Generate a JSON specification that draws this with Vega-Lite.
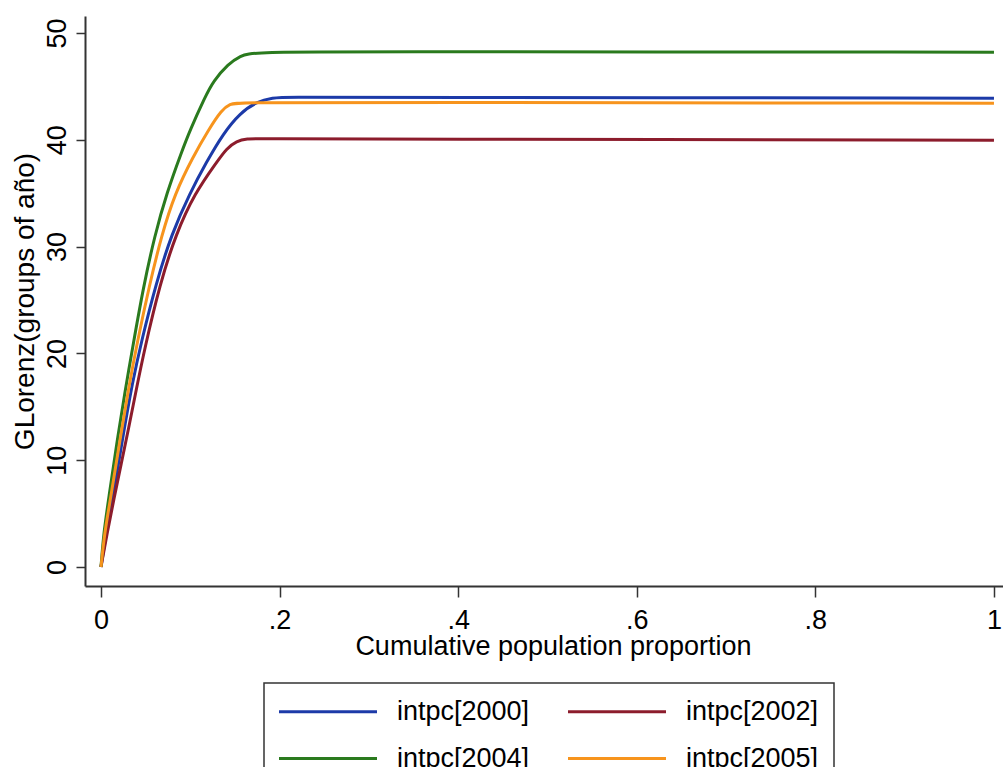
{
  "$schema": "https://vega.github.io/schema/vega-lite/v6.json",
  "width": 918,
  "height": 570,
  "autosize": {"type": "none"},
  "padding": {"left": 85, "top": 16, "right": 0, "bottom": 181},
  "background": "white",
  "config": {
    "view": {"stroke": null},
    "font": "Liberation Sans"
  },
  "data": {
    "values": [
      {"series": "intpc[2000]", "p": 0, "gl": 0},
      {"series": "intpc[2000]", "p": 0.006, "gl": 3.2},
      {"series": "intpc[2000]", "p": 0.0132, "gl": 6.4},
      {"series": "intpc[2000]", "p": 0.0245, "gl": 12.2},
      {"series": "intpc[2000]", "p": 0.035, "gl": 17.2},
      {"series": "intpc[2000]", "p": 0.0455, "gl": 21.2},
      {"series": "intpc[2000]", "p": 0.0615, "gl": 26.5},
      {"series": "intpc[2000]", "p": 0.0791, "gl": 31.2},
      {"series": "intpc[2000]", "p": 0.0995, "gl": 35.0},
      {"series": "intpc[2000]", "p": 0.118, "gl": 37.9},
      {"series": "intpc[2000]", "p": 0.137, "gl": 40.6},
      {"series": "intpc[2000]", "p": 0.1557, "gl": 42.5},
      {"series": "intpc[2000]", "p": 0.1743, "gl": 43.57},
      {"series": "intpc[2000]", "p": 0.193, "gl": 43.94},
      {"series": "intpc[2000]", "p": 0.206, "gl": 44.0},
      {"series": "intpc[2000]", "p": 0.312, "gl": 43.98},
      {"series": "intpc[2000]", "p": 1.0, "gl": 43.9},

      {"series": "intpc[2002]", "p": 0, "gl": 0},
      {"series": "intpc[2002]", "p": 0.007, "gl": 3.2},
      {"series": "intpc[2002]", "p": 0.0145, "gl": 6.4},
      {"series": "intpc[2002]", "p": 0.0225, "gl": 9.6},
      {"series": "intpc[2002]", "p": 0.031, "gl": 13.0},
      {"series": "intpc[2002]", "p": 0.0395, "gl": 16.6},
      {"series": "intpc[2002]", "p": 0.0485, "gl": 20.3},
      {"series": "intpc[2002]", "p": 0.066, "gl": 26.5},
      {"series": "intpc[2002]", "p": 0.084, "gl": 31.2},
      {"series": "intpc[2002]", "p": 0.105, "gl": 35.0},
      {"series": "intpc[2002]", "p": 0.1295, "gl": 37.9},
      {"series": "intpc[2002]", "p": 0.1407, "gl": 39.2},
      {"series": "intpc[2002]", "p": 0.152, "gl": 39.89},
      {"series": "intpc[2002]", "p": 0.163, "gl": 40.1},
      {"series": "intpc[2002]", "p": 0.18, "gl": 40.1},
      {"series": "intpc[2002]", "p": 0.312, "gl": 40.07},
      {"series": "intpc[2002]", "p": 1.0, "gl": 39.95},

      {"series": "intpc[2004]", "p": 0, "gl": 0},
      {"series": "intpc[2004]", "p": 0.003, "gl": 3.2},
      {"series": "intpc[2004]", "p": 0.009, "gl": 6.6},
      {"series": "intpc[2004]", "p": 0.0175, "gl": 11.5},
      {"series": "intpc[2004]", "p": 0.027, "gl": 16.5},
      {"series": "intpc[2004]", "p": 0.036, "gl": 20.8},
      {"series": "intpc[2004]", "p": 0.047, "gl": 26.0},
      {"series": "intpc[2004]", "p": 0.060, "gl": 31.0},
      {"series": "intpc[2004]", "p": 0.074, "gl": 35.1},
      {"series": "intpc[2004]", "p": 0.090, "gl": 38.8},
      {"series": "intpc[2004]", "p": 0.0997, "gl": 40.9},
      {"series": "intpc[2004]", "p": 0.1165, "gl": 44.0},
      {"series": "intpc[2004]", "p": 0.1258, "gl": 45.5},
      {"series": "intpc[2004]", "p": 0.1426, "gl": 47.1},
      {"series": "intpc[2004]", "p": 0.1557, "gl": 47.85},
      {"series": "intpc[2004]", "p": 0.1706, "gl": 48.25},
      {"series": "intpc[2004]", "p": 0.312, "gl": 48.25},
      {"series": "intpc[2004]", "p": 1.0, "gl": 48.2},

      {"series": "intpc[2005]", "p": 0, "gl": 0},
      {"series": "intpc[2005]", "p": 0.004, "gl": 3.2},
      {"series": "intpc[2005]", "p": 0.0105, "gl": 6.3},
      {"series": "intpc[2005]", "p": 0.0205, "gl": 11.5},
      {"series": "intpc[2005]", "p": 0.031, "gl": 16.8},
      {"series": "intpc[2005]", "p": 0.0405, "gl": 21.0},
      {"series": "intpc[2005]", "p": 0.054, "gl": 26.3},
      {"series": "intpc[2005]", "p": 0.068, "gl": 31.1},
      {"series": "intpc[2005]", "p": 0.0829, "gl": 35.0},
      {"series": "intpc[2005]", "p": 0.103, "gl": 38.4},
      {"series": "intpc[2005]", "p": 0.1202, "gl": 40.9},
      {"series": "intpc[2005]", "p": 0.1351, "gl": 42.8},
      {"series": "intpc[2005]", "p": 0.1445, "gl": 43.35},
      {"series": "intpc[2005]", "p": 0.1538, "gl": 43.5},
      {"series": "intpc[2005]", "p": 0.312, "gl": 43.5},
      {"series": "intpc[2005]", "p": 1.0, "gl": 43.42}
    ]
  },
  "mark": {"type": "line", "strokeWidth": 3, "interpolate": "basis"},
  "encoding": {
    "x": {
      "field": "p",
      "type": "quantitative",
      "scale": {"domain": [-0.0179, 1.0101], "nice": false, "zero": false},
      "axis": {
        "values": [0, 0.2, 0.4, 0.6, 0.8, 1],
        "labelExpr": "replace(format(datum.value, '.1~f'), '0.', '.')",
        "title": "Cumulative population proportion",
        "grid": false,
        "domainColor": "#333333",
        "domainWidth": 2,
        "tickColor": "#333333",
        "tickWidth": 1.5,
        "tickSize": 11,
        "labelFontSize": 27,
        "labelColor": "black",
        "labelBaseline": "alphabetic",
        "labelPadding": 31,
        "labelFlush": false,
        "labelOverlap": false,
        "titleFontSize": 27,
        "titleFontWeight": "normal",
        "titleColor": "black",
        "titleBaseline": "alphabetic",
        "titleX": 468,
        "titleY": 68
      }
    },
    "y": {
      "field": "gl",
      "type": "quantitative",
      "scale": {"domain": [-1.78, 51.59], "nice": false, "zero": false},
      "axis": {
        "values": [0, 10, 20, 30, 40, 50],
        "title": "GLorenz(groups of año)",
        "grid": false,
        "domainColor": "#333333",
        "domainWidth": 2,
        "tickColor": "#333333",
        "tickWidth": 1.5,
        "tickSize": 9,
        "labelAngle": -90,
        "labelAlign": "center",
        "labelBaseline": "alphabetic",
        "labelFontSize": 27,
        "labelColor": "black",
        "labelPadding": 11,
        "labelFlush": false,
        "labelOverlap": false,
        "titleFontSize": 28,
        "titleFontWeight": "normal",
        "titleColor": "black",
        "titleBaseline": "alphabetic",
        "titleX": -52
      }
    },
    "color": {
      "field": "series",
      "type": "nominal",
      "scale": {
        "domain": ["intpc[2000]", "intpc[2002]", "intpc[2004]", "intpc[2005]"],
        "range": ["#1c3aa8", "#8c1c2c", "#2a7a1e", "#f7941d"]
      },
      "legend": {
        "orient": "none",
        "legendX": 179,
        "legendY": 667,
        "direction": "horizontal",
        "columns": 2,
        "title": null,
        "symbolType": "M-5,0H5",
        "symbolSize": 384.16,
        "symbolStrokeWidth": 3,
        "symbolOffset": 35.5,
        "labelFontSize": 27,
        "labelColor": "black",
        "labelOffset": 55.5,
        "columnPadding": 32,
        "rowPadding": 19,
        "padding": 15,
        "fillColor": "white",
        "strokeColor": "#333333",
        "encode": {"legend": {"update": {"strokeWidth": {"value": 1.5}}}}
      }
    }
  }
}
